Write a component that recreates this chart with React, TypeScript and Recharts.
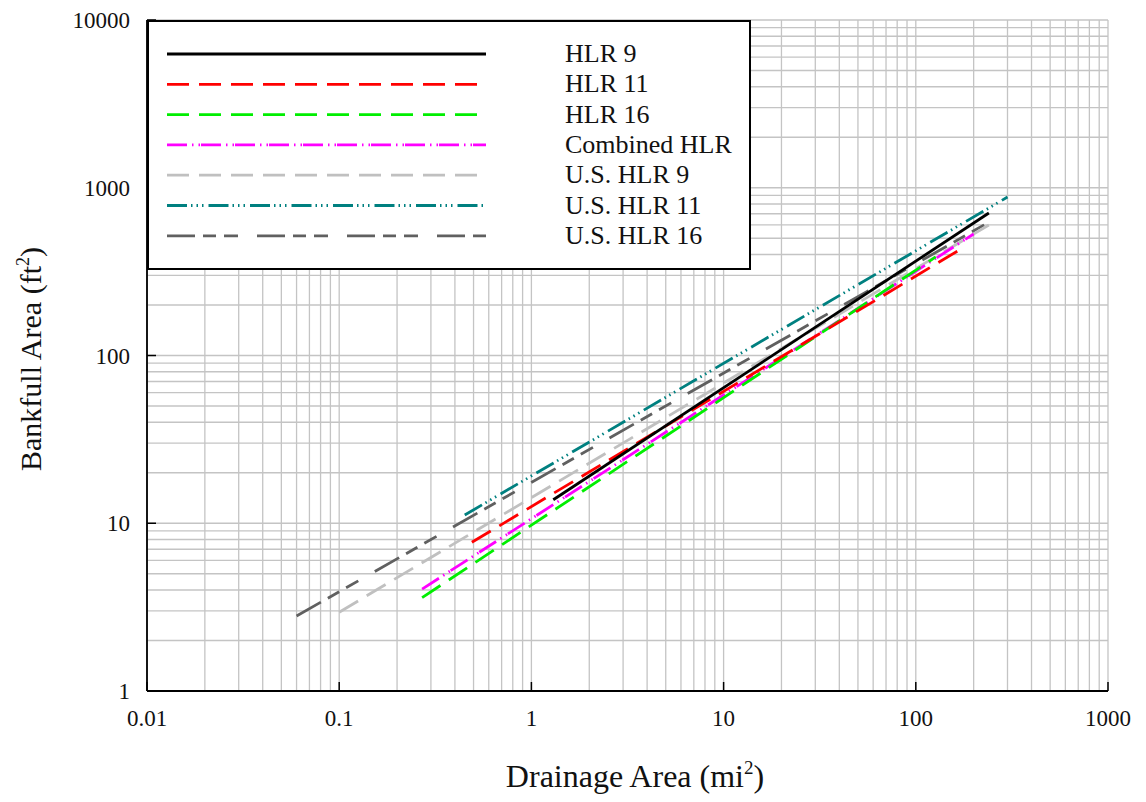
import React from "react";
import { LineChart, Line, XAxis, YAxis, CartesianGrid, Legend } from "recharts";

// Tick labels
const xTicks = [0.01, 0.1, 1, 10, 100, 1000];
const yTicks = [1, 10, 100, 1000, 10000];
const minorMultipliers = [2, 3, 4, 5, 6, 7, 8, 9];

// Series (drainage area mi², bankfull area ft²) – straight power-law lines
const hlr9 = [
  { x: 1.3, y: 13.8 },
  { x: 240, y: 707 },
];
const hlr11 = [
  { x: 0.49, y: 7.7 },
  { x: 175, y: 437 },
];
const hlr16 = [
  { x: 0.27, y: 3.6 },
  { x: 127, y: 387 },
];
const combinedHlr = [
  { x: 0.27, y: 4.05 },
  { x: 200, y: 530 },
];
const usHlr9 = [
  { x: 0.1, y: 2.95 },
  { x: 240, y: 600 },
];
const usHlr11 = [
  { x: 0.45, y: 11.2 },
  { x: 300, y: 880 },
];
const usHlr16 = [
  { x: 0.06, y: 2.8 },
  { x: 250, y: 640 },
];

const series = [
  { name: "HLR 9", data: hlr9, color: "#000000", dash: undefined as string | undefined },
  { name: "HLR 11", data: hlr11, color: "#ff0000", dash: "22 10" },
  { name: "HLR 16", data: hlr16, color: "#00ee00", dash: "22 10" },
  { name: "Combined HLR", data: combinedHlr, color: "#ff00ff", dash: "20 5 1.5 5 1.5 1" },
  { name: "U.S. HLR 9", data: usHlr9, color: "#c0c0c0", dash: "22 10" },
  { name: "U.S. HLR 11", data: usHlr11, color: "#008080", dash: "20 4 1.5 4 1.5 4 1.5 5" },
  { name: "U.S. HLR 16", data: usHlr16, color: "#606060", dash: "28 8 13 8 14 19" },
];

const drawOrder = [6, 5, 4, 3, 2, 1, 0];

const xGrid: number[] = [];
xTicks.forEach((t) => {
  xGrid.push(t);
  if (t < 1000) minorMultipliers.forEach((m) => xGrid.push(t * m));
});
const yGrid: number[] = [];
yTicks.forEach((t) => {
  yGrid.push(t);
  if (t < 10000) minorMultipliers.forEach((m) => yGrid.push(t * m));
});

const FONT = "Liberation Serif";

const fmt = (v: number) => (v < 1 ? String(v) : String(Math.round(v)));

const BottomTick = (props: any) => {
  const { x, y, payload } = props;
  return (
    <g>
      <line x1={x} y1={y} x2={x} y2={y - 9} stroke="#000" strokeWidth={1.5} />
      <text x={x} y={y + 35} textAnchor="middle" fontFamily={FONT} fontSize={23} fill="#111">
        {fmt(payload.value)}
      </text>
    </g>
  );
};

const TopTick = (props: any) => {
  const { x, y } = props;
  return <line x1={x} y1={y} x2={x} y2={y + 9} stroke="#000" strokeWidth={1.5} />;
};

const LeftTick = (props: any) => {
  const { x, y, payload } = props;
  return (
    <g>
      <line x1={x} y1={y} x2={x + 9} y2={y} stroke="#000" strokeWidth={1.5} />
      <text x={x - 17} y={y + 8} textAnchor="end" fontFamily={FONT} fontSize={23} fill="#111">
        {fmt(payload.value)}
      </text>
    </g>
  );
};

const RightTick = (props: any) => {
  const { x, y } = props;
  return <line x1={x} y1={y} x2={x - 9} y2={y} stroke="#000" strokeWidth={1.5} />;
};

const LegendBox = () => {
  const w = 604;
  const h = 250;
  return (
    <svg width={w} height={h} style={{ display: "block" }}>
      <rect x={1} y={1} width={w - 2} height={h - 2} fill="#fff" stroke="#000" strokeWidth={2} />
      {series.map((s, i) => {
        const cy = 34 + i * 30.3;
        return (
          <g key={s.name}>
            <line
              x1={20}
              y1={cy}
              x2={339}
              y2={cy}
              stroke={s.color}
              strokeWidth={2.8}
              strokeDasharray={s.dash}
            />
            <text x={418} y={cy + 8} fontFamily={FONT} fontSize={26} fill="#111">
              {s.name}
            </text>
          </g>
        );
      })}
    </svg>
  );
};

export default function App() {
  return (
    <div style={{ width: 1130, height: 786, position: "relative" }}>
      <LineChart width={1130} height={786} margin={{ top: 12, right: 30, bottom: 0, left: 0 }}>
        <CartesianGrid
          xAxisId="b"
          yAxisId="l"
          stroke="#c4c4c4"
          strokeWidth={1.3}
          verticalValues={xGrid}
          horizontalValues={yGrid}
        />
        <XAxis
          xAxisId="b"
          type="number"
          dataKey="x"
          scale="log"
          domain={[0.01, 1000]}
          ticks={xTicks}
          allowDataOverflow
          orientation="bottom"
          height={103}
          tickSize={0}
          tickMargin={0}
          tickLine={false}
          axisLine={{ stroke: "#000", strokeWidth: 1.8 }}
          tick={<BottomTick />}
          interval={0}
        />
        <XAxis
          xAxisId="t"
          type="number"
          dataKey="x"
          scale="log"
          domain={[0.01, 1000]}
          ticks={xTicks}
          allowDataOverflow
          orientation="top"
          height={0}
          tickSize={0}
          tickMargin={0}
          tickLine={false}
          axisLine={{ stroke: "#000", strokeWidth: 1.8 }}
          tick={<TopTick />}
          interval={0}
        />
        <YAxis
          yAxisId="l"
          type="number"
          dataKey="y"
          scale="log"
          domain={[1, 10000]}
          ticks={yTicks}
          allowDataOverflow
          orientation="left"
          width={139}
          tickSize={0}
          tickMargin={0}
          tickLine={false}
          axisLine={{ stroke: "#000", strokeWidth: 1.8 }}
          tick={<LeftTick />}
          interval={0}
        />
        <YAxis
          yAxisId="r"
          type="number"
          dataKey="y"
          scale="log"
          domain={[1, 10000]}
          ticks={yTicks}
          allowDataOverflow
          orientation="right"
          width={0}
          tickSize={0}
          tickMargin={0}
          tickLine={false}
          axisLine={{ stroke: "#000", strokeWidth: 1.8 }}
          tick={<RightTick />}
          interval={0}
        />
        {drawOrder.map((i) => {
          const s = series[i];
          return (
            <Line
              key={s.name}
              xAxisId="b"
              yAxisId="l"
              data={s.data}
              dataKey="y"
              name={s.name}
              type="linear"
              stroke={s.color}
              strokeWidth={2.8}
              strokeDasharray={s.dash}
              dot={false}
              activeDot={false}
              isAnimationActive={false}
            />
          );
        })}
        <Legend
          layout="horizontal"
          verticalAlign="middle"
          align="center"
          wrapperStyle={{ position: "absolute", left: 139, top: 12, width: 604, height: 250 }}
          content={() => <LegendBox />}
        />
        <text x={627} y={779} textAnchor="middle" fontFamily={FONT} fontSize={32} fill="#111">
          Drainage Area (mi
          <tspan fontSize={19} dy={-13}>2</tspan>
          <tspan dy={13}>)</tspan>
        </text>
        <text
          x={33}
          y={351}
          transform="rotate(-90 33 351)"
          textAnchor="middle"
          fontFamily={FONT}
          fontSize={30}
          fill="#111"
        >
          Bankfull Area (ft
          <tspan fontSize={18} dy={-12}>2</tspan>
          <tspan dy={12}>)</tspan>
        </text>
      </LineChart>
    </div>
  );
}
